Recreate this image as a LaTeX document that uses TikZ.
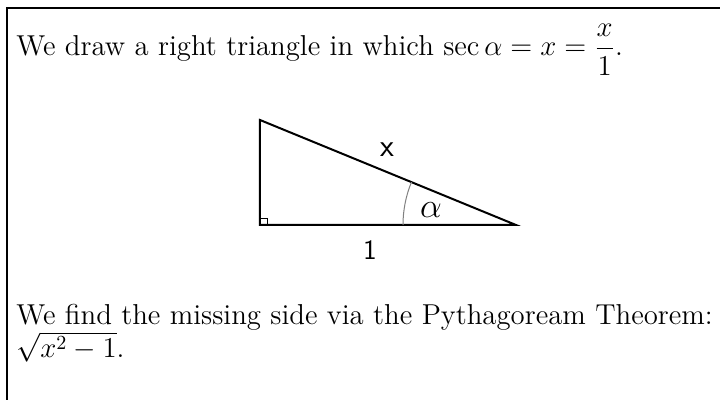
\documentclass[tikz,border=0pt]{standalone}
\usepackage{amsmath}
\begin{document}
\begin{tikzpicture}[x=0.5pt,y=-0.5pt,
  txt/.style={anchor=base west,inner sep=0pt,font=\fontsize{14.4}{17}\selectfont},
  side/.style={line width=1pt},
  lbl/.style={inner sep=0pt,font=\fontsize{14}{16}\selectfont\sffamily}]
\useasboundingbox (0,0) rectangle (720,400);
\draw[line width=0.7pt] (7,400) -- (7,8) -- (720,8);
\node[txt] (t1) at (16,56) {We draw a right triangle in which $\sec\alpha = x = \dfrac{x}{1}$.};
\coordinate (A) at (260,120);
\coordinate (C) at (260,225);
\coordinate (B) at (516,225);
\draw[side,line join=miter] (A) -- (C) -- (B) -- cycle;
\draw[line width=0.4pt] (C) ++(0,-7) -- ++(7,0) -- ++(0,7);
\draw[gray,line width=0.5pt] (B) ++(180:113) arc[start angle=180,end angle=202.3,radius=113];
\node[lbl,font=\fontsize{16}{18}\selectfont\sffamily] (lx) at (387,150) {x};
\node[lbl,font=\fontsize{16}{18}\selectfont] (la) at (431,210) {$\alpha$};
\node[lbl] (l1) at (370,250) {1};
\node[txt] (t2) at (16,325) {We find the missing side via the Pythagoream Theorem:};
\node[txt] (t3) at (16,358) {$\sqrt{x^2-1}$.};
\end{tikzpicture}
\end{document}
